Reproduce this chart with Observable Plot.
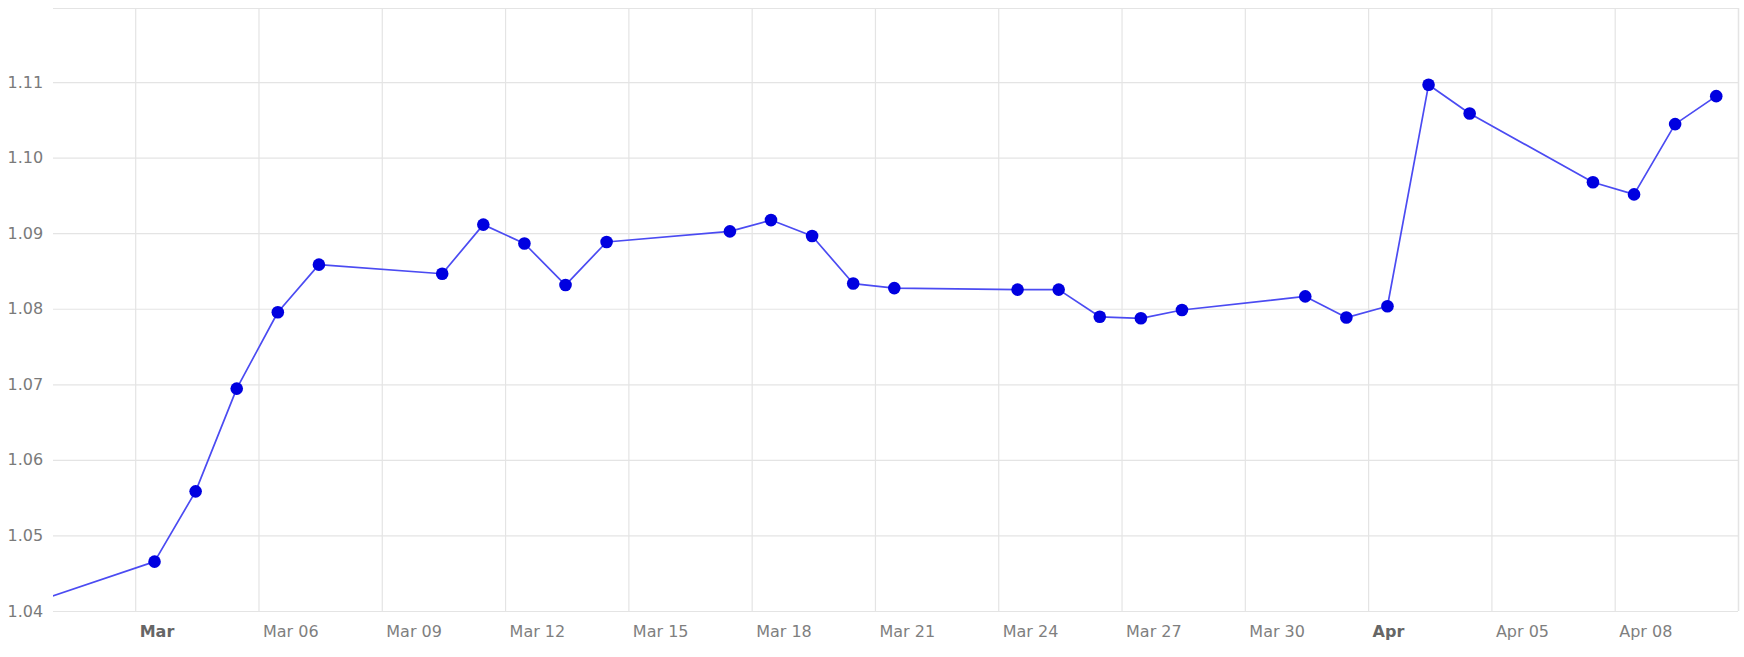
<!DOCTYPE html>
<html>
<head>
<meta charset="utf-8">
<script src="https://cdn.jsdelivr.net/npm/d3@7"></script>
<script src="https://cdn.jsdelivr.net/npm/@observablehq/plot@0.6"></script>
<style>
  html, body { margin: 0; padding: 0; background: #fff; }
  #chart svg { display: block; }
</style>
</head>
<body>
<div id="chart"></div>
<script>
// Trading days (EUR/USD, 2025); the first one lies just before the visible range
const dates = [
  "2025-02-28",
  "2025-03-03", "2025-03-04", "2025-03-05", "2025-03-06", "2025-03-07",
  "2025-03-10", "2025-03-11", "2025-03-12", "2025-03-13", "2025-03-14",
  "2025-03-17", "2025-03-18", "2025-03-19", "2025-03-20", "2025-03-21",
  "2025-03-24", "2025-03-25", "2025-03-26", "2025-03-27", "2025-03-28",
  "2025-03-31", "2025-04-01", "2025-04-02", "2025-04-03", "2025-04-04",
  "2025-04-07", "2025-04-08", "2025-04-09", "2025-04-10"
];
const values = [
  1.0411,
  1.0466, 1.0559, 1.0695, 1.0796, 1.0859,
  1.0847, 1.0912, 1.0887, 1.0832, 1.0889,
  1.0903, 1.0918, 1.0897, 1.0834, 1.0828,
  1.0826, 1.0826, 1.0790, 1.0788, 1.0799,
  1.0817, 1.0789, 1.0804, 1.1097, 1.1059,
  1.0968, 1.0952, 1.1045, 1.1082
];

// Axis ticks and labels
const xTickDates = [
  "2025-03-03", "2025-03-06", "2025-03-09", "2025-03-12", "2025-03-15",
  "2025-03-18", "2025-03-21", "2025-03-24", "2025-03-27", "2025-03-30",
  "2025-04-02", "2025-04-05", "2025-04-08"
];
const xTickLabels = [
  "Mar", "Mar 06", "Mar 09", "Mar 12", "Mar 15",
  "Mar 18", "Mar 21", "Mar 24", "Mar 27", "Mar 30",
  "Apr", "Apr 05", "Apr 08"
];
const xBoldLabels = ["Mar", "Apr"];
const yTicks = [1.04, 1.05, 1.06, 1.07, 1.08, 1.09, 1.10, 1.11];
const yTickLabels = ["1.04", "1.05", "1.06", "1.07", "1.08", "1.09", "1.10", "1.11"];
const xDomain = ["2025-03-01", "2025-04-11"];
const yDomain = [1.04, 1.1198];

const data = dates.map((d, i) => ({ date: new Date(d + "T11:00:00Z"), value: values[i] }));
const xTicks = xTickDates.map(d => new Date(d + "T00:00:00Z"));
const boldTicks = xTicks.filter((t, i) => xBoldLabels.includes(xTickLabels[i]));
const normalTicks = xTicks.filter((t, i) => !xBoldLabels.includes(xTickLabels[i]));
const xLabel = d => xTickLabels[xTicks.findIndex(t => +t === +d)];
const yLabel = v => yTickLabels[yTicks.findIndex(t => Math.abs(t - v) < 1e-9)];
const xDom = xDomain.map(d => new Date(d + "T00:00:00Z"));

const grid = "#e4e4e4";

const chart = Plot.plot({
  width: 1744,
  height: 657,
  marginTop: 8,
  marginRight: 6,
  marginBottom: 46,
  marginLeft: 53,
  style: { fontFamily: "'DejaVu Sans', Verdana, sans-serif", fontSize: "16px", background: "#fff" },
  x: { type: "utc", domain: xDom, label: null },
  y: { domain: yDomain, label: null },
  marks: [
    Plot.gridY(yTicks, { stroke: grid, strokeOpacity: 1, strokeWidth: 1.2 }),
    Plot.gridX(xTicks, { stroke: grid, strokeOpacity: 1, strokeWidth: 1.2 }),
    Plot.ruleY([yDomain[1]], { stroke: grid, strokeWidth: 1.2 }),
    Plot.ruleX([xDom[1]], { stroke: grid, strokeWidth: 1.5 }),
    Plot.axisY(yTicks, { tickSize: 0, tickPadding: 3, textAnchor: "start", dx: -43, fill: "#7a7a7a", tickFormat: yLabel, label: null }),
    Plot.axisX(normalTicks, { tickSize: 0, tickPadding: 14, textAnchor: "start", dx: 4, fill: "#7f7f7f", tickFormat: xLabel, label: null }),
    Plot.axisX(boldTicks, { tickSize: 0, tickPadding: 14, textAnchor: "start", dx: 4, fill: "#666", fontWeight: "bold", tickFormat: xLabel, label: null }),
    Plot.line(data, { x: "date", y: "value", stroke: "#4b4bf2", strokeWidth: 1.7, clip: true }),
    Plot.dot(data, { x: "date", y: "value", r: 6.3, fill: "#0000e0", clip: true })
  ]
});
document.getElementById("chart").appendChild(chart);
</script>
</body>
</html>
